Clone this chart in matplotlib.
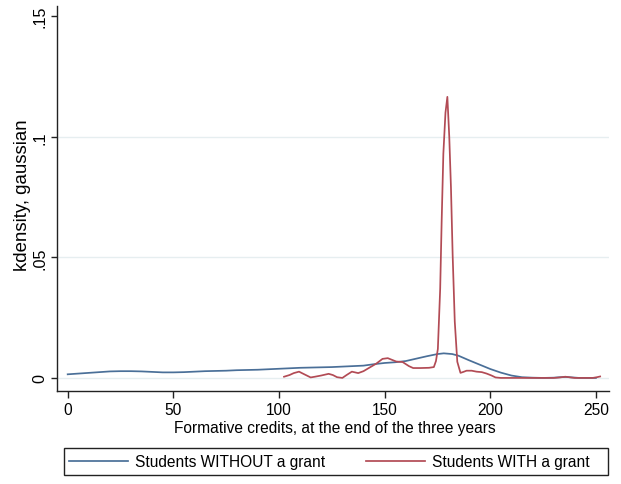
import matplotlib
matplotlib.use("Agg")
import matplotlib.pyplot as plt
from matplotlib.patches import Rectangle

plt.rcParams['font.family'] = ['Liberation Sans', 'DejaVu Sans']

# ---- data ----
x_without = [0, 5, 10, 15, 20, 25, 30, 35, 40, 45, 50, 55, 60, 65, 70, 75, 80, 85, 90,
             95, 100, 105, 110, 115, 120, 125, 130, 135, 140, 145, 150, 155, 160, 165,
             170, 175, 178, 182, 185, 190, 195, 200, 205, 210, 215, 220, 225, 230, 233,
             236, 239, 242, 246, 250]
y_without = [0.0015, 0.0018, 0.0021, 0.0024, 0.0027, 0.0028, 0.0028, 0.0027, 0.0025,
             0.0023, 0.0023, 0.0024, 0.0026, 0.0028, 0.0029, 0.0030, 0.0032, 0.0033,
             0.0034, 0.0036, 0.0038, 0.0040, 0.0042, 0.0043, 0.0044, 0.0045, 0.0047,
             0.0049, 0.0051, 0.0057, 0.0062, 0.0065, 0.0070, 0.0080, 0.0090, 0.0099,
             0.0102, 0.0099, 0.0092, 0.0073, 0.0055, 0.0037, 0.0022, 0.0010, 0.0003,
             0.0001, 0.0000, 0.0001, 0.0003, 0.0004, 0.0002, 0.0000, 0.0000, 0.0000]

x_with = [102.4, 105, 107, 109.5, 112, 115, 117, 120, 123.5, 125.5, 127.5, 130, 132,
          134.5, 137.5, 140, 142.5, 146, 149, 151.5, 155.5, 158.5, 161.5, 163.5, 167,
          171, 173.3, 174.3, 175.2, 176.3, 177, 177.8, 178.8, 179.7, 180.6, 181.4,
          182.2, 183.2, 184.4, 185.9, 187.3, 188.8, 191.2, 193.5, 196, 198.3, 200.6,
          202.5, 205, 210, 220, 230, 233, 235.5, 238, 240, 248.5, 250.5, 252]
y_with = [0.0005, 0.0012, 0.0020, 0.0026, 0.0015, 0.0002, 0.0005, 0.0010, 0.0017,
          0.0012, 0.0003, 0.0000, 0.0012, 0.0026, 0.0020, 0.0028, 0.0041, 0.0059,
          0.0079, 0.0082, 0.0068, 0.0066, 0.0049, 0.0041, 0.0041, 0.0042, 0.0045,
          0.0070, 0.0120, 0.0370, 0.0650, 0.0930, 0.1100, 0.1166, 0.1000, 0.0790,
          0.0510, 0.0234, 0.0067, 0.0021, 0.0025, 0.0030, 0.0030, 0.0026, 0.0024,
          0.0018, 0.0010, 0.0002, 0.0000, 0.0000, 0.0000, 0.0000, 0.0002, 0.0005,
          0.0002, 0.0000, 0.0000, 0.0003, 0.0006]

x_ticks = [0, 50, 100, 150, 200, 250]
y_ticks = [0, 0.05, 0.10, 0.15]
y_grid = [0, 0.05, 0.10]
y_tick_labels = ['0', '.05', '.1', '.15']
series_labels = ['Students WITHOUT a grant', 'Students WITH a grant']
x_title = 'Formative credits, at the end of the three years'
y_title = 'kdensity, gaussian'

# ---- figure ----
W, H = 621, 485
fig = plt.figure(figsize=(W / 100, H / 100), dpi=100)
fig.patch.set_facecolor('white')

left_px, right_px, top_px, bottom_px = 56.7, 609, 6.7, 391.7
ax = fig.add_axes([left_px / W, 1 - bottom_px / H,
                   (right_px - left_px) / W, (bottom_px - top_px) / H])

blue = '#4a6f98'
red = '#b24b55'
fs = 11.2

for y in y_grid:
    ax.axhline(y, color='#e6eef0', lw=1.0, zorder=0)

l1, = ax.plot(x_without, y_without, color=blue, lw=1.25, label=series_labels[0], zorder=2)
l2, = ax.plot(x_with, y_with, color=red, lw=1.25, label=series_labels[1], zorder=3)

ax.set_xlim(-5.2, 256.2)
ax.set_ylim(-0.0053, 0.1544)

for s in ['top', 'right']:
    ax.spines[s].set_visible(False)
for s in ['left', 'bottom']:
    ax.spines[s].set_color('#222222')
    ax.spines[s].set_linewidth(1.0)

ax.set_xticks(x_ticks)
ax.set_xticklabels([str(t) for t in x_ticks], fontsize=fs)
ax.set_yticks(y_ticks)
ax.set_yticklabels(y_tick_labels, fontsize=11.6, rotation=90, va='center')
ax.tick_params(axis='x', direction='out', length=4.8, width=1.0, color='#222222', pad=3.4)
ax.tick_params(axis='y', direction='out', length=4.3, width=1.0, color='#222222', pad=2.6)

ax.set_xlabel(x_title, fontsize=fs)
ax.xaxis.set_label_coords(0.503, -0.075)
ax.set_ylabel(y_title, fontsize=13.4)
ax.yaxis.set_label_coords(-0.047, 0.51)

# legend box
bx0, bx1, by0, by1 = 63.6, 608, 449, 476
rect = Rectangle((bx0 / W, 1 - by1 / H), (bx1 - bx0) / W, (by1 - by0) / H,
                 transform=fig.transFigure, fill=False, edgecolor='#222222', lw=1.0)
fig.patches.append(rect)

fig.legend(handles=[l1, l2], labels=series_labels, loc='center left',
           bbox_to_anchor=(69 / W, 1 - 462.5 / H), ncol=2, frameon=False,
           fontsize=fs, handlelength=3.8, handletextpad=0.45, columnspacing=2.6,
           borderpad=0, borderaxespad=0)

fig.savefig('out.png', dpi=100, facecolor='white')
